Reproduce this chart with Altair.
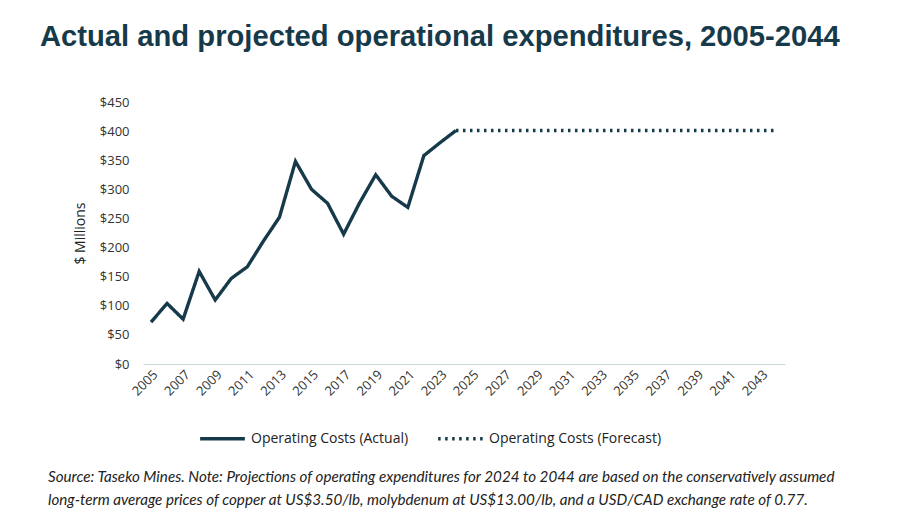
import altair as alt
import pandas as pd

actual_years = list(range(2005, 2025))
actual_values = [72, 104, 77, 159, 110, 147, 167, 211, 252, 348, 300, 276, 223, 277, 325, 288, 269, 358, 380, 401]
forecast_years = list(range(2024, 2045))
forecast_values = [401] * len(forecast_years)
series_names = ["Operating Costs (Actual)", "Operating Costs (Forecast)"]
tick_years = list(range(2005, 2045, 2))
y_ticks = list(range(0, 451, 50))

title_text = "Actual and projected operational expenditures, 2005-2044"
note_lines = [
    "Source: Taseko Mines. Note: Projections of operating expenditures for 2024 to 2044 are based on the conservatively assumed",
    "long-term average prices of copper at US$3.50/lb, molybdenum at US$13.00/lb, and a USD/CAD exchange rate of 0.77.",
]

INK = "#163a4a"

df = pd.concat([
    pd.DataFrame({"year": actual_years, "value": actual_values, "series": series_names[0]}),
    pd.DataFrame({"year": forecast_years, "value": forecast_values, "series": series_names[1]}),
])

lines = alt.Chart(df).mark_line(strokeWidth=3.4, strokeCap="butt", strokeJoin="miter").encode(
    x=alt.X("year:Q",
            scale=alt.Scale(domain=[2004.5, 2044.5], nice=False, zero=False),
            axis=alt.Axis(values=tick_years, format="d", labelAngle=-45, labelAlign="right",
                          labelBaseline="top", ticks=False, grid=False, title=None,
                          domainColor="#cbd8dc", domainWidth=1.2, labelFont="Open Sans",
                          labelFontSize=13, labelColor="#333333", labelPadding=4,
                          labelOverlap=False)),
    y=alt.Y("value:Q",
            scale=alt.Scale(domain=[0, 450], nice=False),
            axis=alt.Axis(values=y_ticks, format="$.0f", ticks=False, grid=False, domain=False,
                          title="$ Millions", titleFont="Open Sans", titleFontSize=14,
                          titleFontWeight="normal", titleColor="#222222", titlePadding=12,
                          labelFont="Open Sans", labelFontSize=13, labelColor="#333333",
                          labelPadding=14)),
    color=alt.Color("series:N", scale=alt.Scale(domain=series_names, range=[INK, INK]),
                    legend=alt.Legend(title=None, orient="none", legendX=55, legendY=312,
                                      direction="horizontal", symbolType="stroke",
                                      symbolSize=2000, symbolStrokeWidth=3.4,
                                      labelFont="Open Sans", labelFontSize=14,
                                      labelColor="#222222", columnPadding=22, labelOffset=4,
                                      labelLimit=400)),
    strokeDash=alt.StrokeDash("series:N",
                              scale=alt.Scale(domain=series_names, range=[[1, 0], [2.5, 4.5]]),
                              legend=None),
    detail="series:N",
)

note_df = pd.DataFrame({"t": [note_lines]})
note = alt.Chart(note_df).mark_text(
    align="left", baseline="alphabetic", font="Lato", fontStyle="italic", fontSize=15.2,
    lineHeight=23, color="#222222"
).encode(text="t", x=alt.value(-95), y=alt.value(380))

chart = alt.layer(lines, note).properties(
    width=642, height=262,
    autosize=alt.AutoSizeParams(type="none"),
    padding={"left": 135, "top": 94, "right": 107, "bottom": 150},
    title=alt.TitleParams(title_text, anchor="start", frame="group", dx=-103, dy=-40,
                          font="Liberation Sans", fontSize=29.2, fontWeight="bold", color=INK),
).configure_view(stroke=None)

chart.save("out.html", embed_options={"renderer": "svg", "actions": False})
